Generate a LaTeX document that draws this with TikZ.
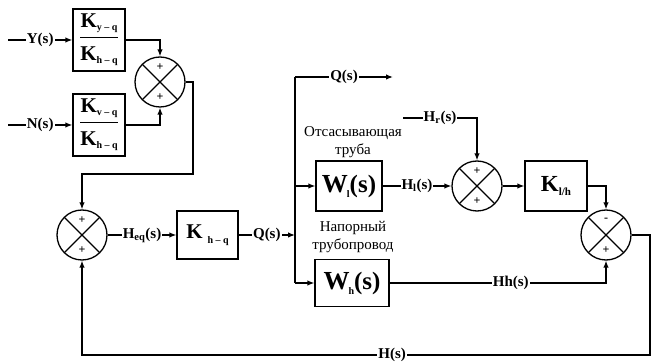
\documentclass[tikz,border=0pt]{standalone}
\usepackage{fontspec}
\setmainfont{Liberation Serif}
\usetikzlibrary{arrows.meta,positioning,calc}

% K with a lowered index: K size, index size, drop, index
\newcommand{\Kbig}[4]{{\fontsize{#1}{#1}\selectfont K}\raisebox{-#3}{\fontsize{#2}{#2}\selectfont #4}}
\newcommand{\Kfrac}[2]{$\displaystyle{\hbox{\rule[-6pt]{0pt}{6pt}\Kbig{21}{10}{3pt}{#1}} \above 1pt \hbox{\rule{0pt}{20pt}\Kbig{21}{10}{3pt}{#2}}}$}
\newcommand{\Wbig}[1]{{\fontsize{26}{26}\selectfont W}\kern-1pt\raisebox{-5pt}{\fontsize{10}{10}\selectfont #1}{\fontsize{25}{25}\selectfont(s)}}

\begin{document}
\begin{tikzpicture}[
  x=1pt, y=-1pt,
  line width=1.3pt,
  block/.style={draw, line width=1.3pt, inner sep=0pt, font=\bfseries},
  sumj/.style={circle, draw, line width=1.3pt, minimum size=50pt, inner sep=0pt,
    path picture={\draw[line width=1.3pt] (path picture bounding box.north west) -- (path picture bounding box.south east)
      (path picture bounding box.north east) -- (path picture bounding box.south west);}},
  sgn/.style={inner sep=0pt, font=\fontsize{12}{12}\selectfont\bfseries},
  lbl/.style={fill=white, inner sep=1pt, font=\fontsize{15}{15}\selectfont\bfseries},
  note/.style={align=center, inner sep=0pt, font=\fontsize{15}{18}\selectfont},
  arrow/.style={-{Latex[length=7pt,width=5.5pt]}}
]
\useasboundingbox (0,0) rectangle (653,363);

% blocks
\node[block, minimum width=52pt, minimum height=62pt] (ky) at (99,40) {\Kfrac{y – q}{h – q}};
\node[block, minimum width=52pt, minimum height=62pt] (kv) at (99,125) {\Kfrac{v – q}{h – q}};
\node[block, minimum width=61pt, minimum height=48pt] (kh) at (207.5,235) {\Kbig{21}{10}{5pt}{\hspace{5pt}h – q}};
\node[block, minimum width=66pt, minimum height=50pt] (wl) at (349,186) {\Wbig{l}};
\node[block, minimum width=74pt, minimum height=47pt] (wh) at (352,283) {\Wbig{h}};
\node[block, minimum width=62pt, minimum height=50pt] (klh) at (556,186) {\Kbig{23}{11}{4pt}{l/h}};

\node[note] (wlt) at (353,142) {Отсасывающая\\труба};
\node[note] (wht) at (353,237) {Напорный\\трубопровод};

% summing junctions
\node[sumj] (s1) at (160,82) {};
\node[sumj] (s2) at (82,235) {};
\node[sumj] (s3) at (477,186) {};
\node[sumj] (s4) at (606,235) {};
\node[sgn] (s1a) at ($(s1)+(0,-15)$) {+};
\node[sgn] (s1b) at ($(s1)+(0,15)$) {+};
\node[sgn] (s2a) at ($(s2)+(0,-15)$) {+};
\node[sgn] (s2b) at ($(s2)+(0,15)$) {+};
\node[sgn] (s3a) at ($(s3)+(0,-15)$) {+};
\node[sgn] (s3b) at ($(s3)+(0,15)$) {+};
\node[sgn] (s4a) at ($(s4)+(0,-15)$) {-};
\node[sgn] (s4b) at ($(s4)+(0,15)$) {+};

% free ends and bends
\coordinate (yin) at (8,40);
\coordinate (nin) at (8,125);
\coordinate (s1out) at (193,174);
\coordinate (br) at (295,235);
\coordinate (qtop) at (295,77);
\coordinate (qend) at (393,77);
\coordinate (bot) at (295,283);
\coordinate (hrin) at (403,118);
\coordinate (fb) at (650,355);

\draw[arrow] (yin) -- node[lbl] {Y(s)} (ky);
\draw[arrow] (nin) -- node[lbl] {N(s)} (kv);
\draw[arrow] (ky.east) -| (s1.north);
\draw[arrow] (kv.east) -| (s1.south);
\draw[arrow] (s1.east) -| (s1out) -| (s2.north);
\draw[arrow] (s2) -- node[lbl] {H\textsubscript{eq}(s)} (kh);
\draw[arrow] (kh) -- node[lbl] {Q(s)} (br);
\draw (qtop) -- (bot);
\draw[arrow] (qtop) -- node[lbl] {Q(s)} (qend);
\draw[arrow] (br |- wl) -- (wl);
\draw[arrow] (bot) -- (wh);
\draw[arrow] (wl) -- node[lbl] {H\textsubscript{l}(s)} (s3);
\draw[arrow] (hrin) -| node[lbl, pos=0.25] {H\textsubscript{r}(s)} (s3.north);
\draw[arrow] (s3) -- (klh);
\draw[arrow] (klh.east) -| (s4.north);
\draw[arrow] (wh.east) -| node[lbl, pos=0.28] {Hh(s)} (s4.south);
\draw[arrow] (s4.east) -| (fb) -- node[lbl, pos=0.454] {H(s)} (s2 |- fb) -- (s2.south);
\end{tikzpicture}
\end{document}
